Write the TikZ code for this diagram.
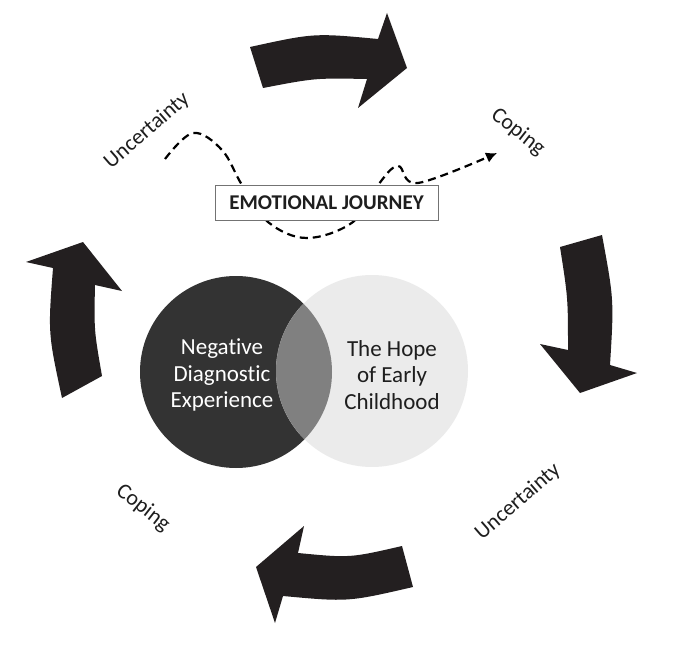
\documentclass[tikz,border=0pt]{standalone}
\usepackage{fontspec}
\setmainfont{Carlito}[Ligatures=NoCommon]
\usetikzlibrary{arrows.meta}
\definecolor{arrowc}{HTML}{231F20}
\definecolor{darkc}{HTML}{333333}
\definecolor{lightc}{HTML}{EBEBEB}
\definecolor{midc}{HTML}{808080}
\definecolor{txtc}{HTML}{1E1E1E}
\begin{document}
\begin{tikzpicture}[x=1pt,y=-1pt,
  bigarrow/.style={fill=arrowc, draw=none},
  steplabel/.style={font=\fontsize{22}{24}\selectfont, text=txtc, inner sep=0pt},
  circtext/.style={font=\fontsize{23}{26.5}\selectfont, align=center, inner sep=0pt},
  journey/.style={line width=2.2pt, dash pattern=on 8pt off 5pt, -{Latex[length=11pt,width=11pt]}},
  titlebox/.style={draw=black!55, line width=0.8pt, fill=white, font=\bfseries\fontsize{21}{24}\selectfont,
    text=txtc, minimum width=223pt, minimum height=35pt, inner sep=0pt}]
\useasboundingbox (0,0) rectangle (682,650);

% big curved arrows
\fill[bigarrow] (250,47) .. controls (314,33) .. (378,39) -- (387,13) -- (407,68) -- (358,108) -- (367,79) .. controls (315,78) .. (263,88) -- cycle;
\fill[bigarrow] (560,247) -- (602,235) .. controls (614,300) .. (610,365) -- (637,373) -- (580,393) -- (540,344) -- (568,350) .. controls (568,298) .. (560,247) -- cycle;
\fill[bigarrow] (402,546) .. controls (350,558) .. (298,553) -- (304,526) -- (256,567) -- (275,623) -- (283,596) .. controls (348,602) .. (413,587) -- cycle;
\fill[bigarrow] (62,398) .. controls (48,333) .. (53,268) -- (26,262) -- (83,242) -- (122,291) -- (95,285) .. controls (94,330) .. (102,376) -- cycle;

% circles
\fill[darkc] (236,372) circle[radius=96];
\fill[lightc] (372,371) circle[radius=96];
\begin{scope}
  \clip (236,372) circle[radius=96];
  \fill[midc] (372,371) circle[radius=96];
\end{scope}
\node[circtext, text=white] (neg) at (222,375) {Negative\\Diagnostic\\Experience};
\node[circtext, text=txtc] (hope) at (392,375) {The Hope\\of Early\\Childhood};

% emotional journey curve
\coordinate (js) at (165,159);
\coordinate (je) at (497,153);
\draw[journey] plot[smooth, tension=0.6] coordinates {(js) (193,133) (222,150) (242,185) (268,222) (307,238) (353,222) (378,185) (398,166) (418,183) (je)};
\node[titlebox] (ej) at (326.5,202.5) {EMOTIONAL JOURNEY};

% labels
\node[steplabel, rotate=41] (u1) at (147,131) {Uncertainty};
\node[steplabel, rotate=-38] (c1) at (518,132) {Coping};
\node[steplabel, rotate=41] (u2) at (518,502) {Uncertainty};
\node[steplabel, rotate=-38] (c2) at (143,508) {Coping};
\end{tikzpicture}
\end{document}
